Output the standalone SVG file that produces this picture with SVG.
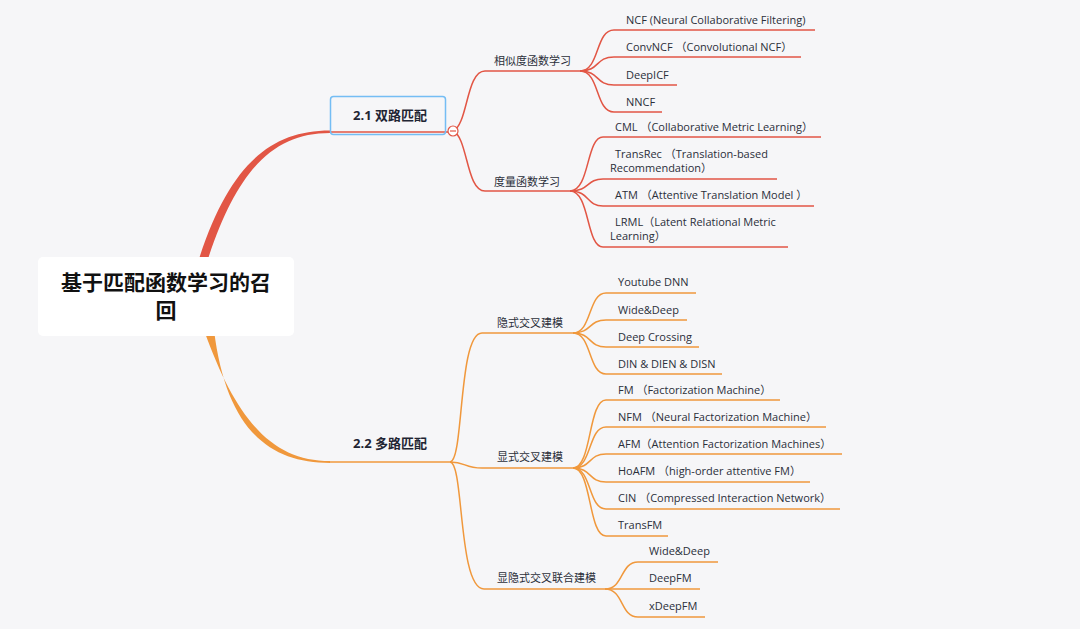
<svg xmlns="http://www.w3.org/2000/svg" width="1080" height="629" viewBox="0 0 1080 629">
<style>
.t{font-family:"Open Sans","Noto Sans CJK SC",sans-serif;font-size:11px;fill:#2b2f3a}
.b{font-family:"Open Sans","Noto Sans CJK SC",sans-serif;font-size:13px;font-weight:bold;fill:#1f2533}
.r{fill:none;stroke:#e25645;stroke-width:1.5}
.o{fill:none;stroke:#f0983c;stroke-width:1.5}
</style>
<rect width="1080" height="629" fill="#f6f6f8"/>
<g id="connectors">
<path d="M198,262 C228,168 268,130.5 330,130.5 L330,133 C272,133 236,172 207,262 Z" fill="#e25645"/>
<path d="M204,330 C236,420 272,461 330,461 L330,463 C268,463 226,428 214,330 Z" fill="#f0983c"/>
<path class="r" d="M330,132 H448"/>
<path class="r" d="M453,131 C468,125 466,71 485,71 H580"/>
<path class="r" d="M453,131 C468,137 466,191 485,191 H570"/>
<path class="r" d="M580,71 C600,71 595,30 614,30 H815"/>
<path class="r" d="M580,71 C600,71 595,57 614,57 H801"/>
<path class="r" d="M580,71 C600,71 595,85 614,85 H677"/>
<path class="r" d="M580,71 C600,71 595,112 614,112 H662"/>
<path class="r" d="M570,191 C590,191 586,137 603,137 H821"/>
<path class="r" d="M570,191 C590,191 586,179 603,179 H777"/>
<path class="r" d="M570,191 C590,191 586,206 603,206 H814"/>
<path class="r" d="M570,191 C590,191 586,247 603,247 H788"/>
<path class="o" d="M330,462 H450"/>
<path class="o" d="M450,462 C464,462 458,333 482,333 H573"/>
<path class="o" d="M450,462 C466,462 464,468 482,468 H573"/>
<path class="o" d="M450,462 C464,462 458,589 484,589 H605"/>
<path class="o" d="M573,333 C592,333 588,293 606,293 H696"/>
<path class="o" d="M573,333 C592,333 588,320 606,320 H687"/>
<path class="o" d="M573,333 C592,333 588,347 606,347 H699"/>
<path class="o" d="M573,333 C592,333 588,374 606,374 H722"/>
<path class="o" d="M573,468 C592,468 588,400 606,400 H780"/>
<path class="o" d="M573,468 C592,468 588,427 606,427 H826"/>
<path class="o" d="M573,468 C592,468 588,454 606,454 H842"/>
<path class="o" d="M573,468 C592,468 588,482 606,482 H810"/>
<path class="o" d="M573,468 C592,468 588,509 606,509 H840"/>
<path class="o" d="M573,468 C592,468 588,536 606,536 H668"/>
<path class="o" d="M605,589 C624,589 620,562 638,562 H718"/>
<path class="o" d="M605,589 H700"/>
<path class="o" d="M605,589 C624,589 620,617 638,617 H705"/>
</g>
<g id="root">
<rect x="38" y="257" width="256" height="79" rx="5" fill="#ffffff"/>
<text x="166" y="290" text-anchor="middle" font-family="'Noto Sans CJK SC',sans-serif" font-size="21" font-weight="bold" fill="#111">基于匹配函数学习的召</text>
<text x="166" y="318" text-anchor="middle" font-family="'Noto Sans CJK SC',sans-serif" font-size="21" font-weight="bold" fill="#111">回</text>
</g>
<g id="n21">
<rect x="330.5" y="96.5" width="115" height="38" rx="3" fill="none" stroke="#74bdf4" stroke-width="1.5"/>
<text class="b" x="390" y="120" text-anchor="middle">2.1 双路匹配</text>
<circle cx="453" cy="131" r="5" fill="#fff" stroke="#e25645" stroke-width="1.2"/>
<path d="M450,131 H456" stroke="#e25645" stroke-width="1.2"/>
</g>
<g id="n21a"><text class="t" x="494" y="65">相似度函数学习</text></g>
<g id="n21a1"><text class="t" x="626" y="24">NCF (Neural Collaborative Filtering)</text></g>
<g id="n21a2"><text class="t" x="626" y="51">ConvNCF （Convolutional NCF）</text></g>
<g id="n21a3"><text class="t" x="626" y="79">DeepICF</text></g>
<g id="n21a4"><text class="t" x="626" y="106">NNCF</text></g>
<g id="n21b"><text class="t" x="494" y="186">度量函数学习</text></g>
<g id="n21b1"><text class="t" x="615" y="131">CML （Collaborative Metric Learning）</text></g>
<g id="n21b2"><text class="t" x="615" y="158">TransRec （Translation-based</text><text class="t" x="610" y="172">Recommendation）</text></g>
<g id="n21b3"><text class="t" x="615" y="199">ATM （Attentive Translation Model ）</text></g>
<g id="n21b4"><text class="t" x="615" y="226">LRML（Latent Relational Metric</text><text class="t" x="610" y="240">Learning）</text></g>
<g id="n22"><text class="b" x="353" y="448">2.2 多路匹配</text></g>
<g id="n22a"><text class="t" x="497" y="327">隐式交叉建模</text></g>
<g id="n22a1"><text class="t" x="618" y="286">Youtube DNN</text></g>
<g id="n22a2"><text class="t" x="618" y="314">Wide&amp;Deep</text></g>
<g id="n22a3"><text class="t" x="618" y="341">Deep Crossing</text></g>
<g id="n22a4"><text class="t" x="618" y="368">DIN &amp; DIEN &amp; DISN</text></g>
<g id="n22b"><text class="t" x="497" y="461">显式交叉建模</text></g>
<g id="n22b1"><text class="t" x="618" y="394">FM （Factorization Machine）</text></g>
<g id="n22b2"><text class="t" x="618" y="421">NFM （Neural Factorization Machine）</text></g>
<g id="n22b3"><text class="t" x="618" y="448">AFM（Attention Factorization Machines）</text></g>
<g id="n22b4"><text class="t" x="618" y="475">HoAFM （high-order attentive FM）</text></g>
<g id="n22b5"><text class="t" x="618" y="502">CIN （Compressed Interaction Network）</text></g>
<g id="n22b6"><text class="t" x="618" y="529">TransFM</text></g>
<g id="n22c"><text class="t" x="497" y="582">显隐式交叉联合建模</text></g>
<g id="n22c1"><text class="t" x="649" y="555">Wide&amp;Deep</text></g>
<g id="n22c2"><text class="t" x="649" y="582">DeepFM</text></g>
<g id="n22c3"><text class="t" x="649" y="610">xDeepFM</text></g>
</svg>
